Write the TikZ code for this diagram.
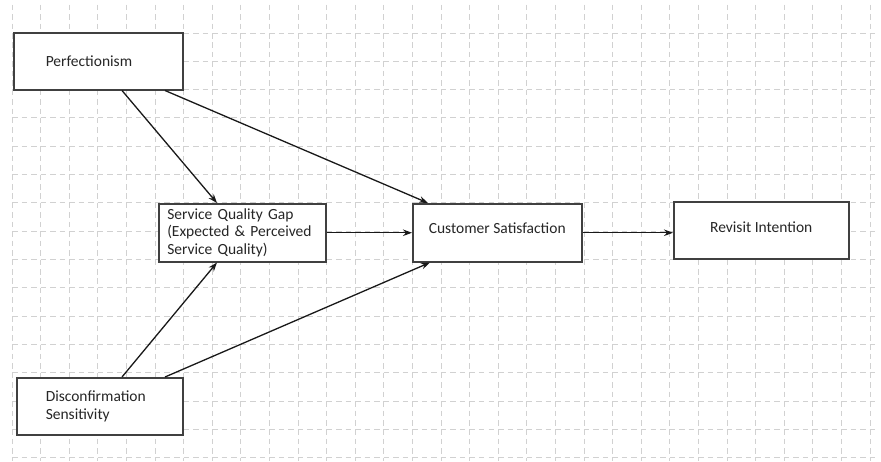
\documentclass[tikz,border=0pt]{standalone}
\usepackage{fontspec}
\setmainfont{Carlito}
\usetikzlibrary{arrows.meta}
\begin{document}
\begin{tikzpicture}[x=1pt,y=-1pt,
  box/.style={draw=black!75, line width=1.5pt, fill=white, inner ysep=0pt, minimum height=57pt, text=black!85, font=\fontsize{15.5}{17.5}\selectfont},
  conn/.style={line width=1.3pt, draw=black!90, -{Stealth[length=9pt,width=6.5pt]}},
  hgrid/.style={draw=black!18, line width=1pt, dash pattern=on 5.5pt off 4.03pt},
  vgrid/.style={draw=black!18, line width=1pt, dash pattern=on 5.5pt off 3.94pt}]
\useasboundingbox[fill=white] (0,0) rectangle (881,461);
\foreach \i in {0,...,30} \draw[vgrid] ({12+\i*28.6},4.68) -- ({12+\i*28.6},461);
\foreach \j in {0,...,15} \draw[hgrid] (12,{33+\j*28.33}) -- (876,{33+\j*28.33});
\node[box, anchor=north west, minimum width=169pt, text width=105pt, inner xsep=32pt, align=left] (perf) at (13,32) {Perfectionism};
\node[box, anchor=north west, minimum width=167pt, text width=150pt, inner xsep=8.5pt, align=left, minimum height=58pt] (sqg) at (158,203) {Service Quality Gap\\(Expected \& Perceived\\Service Quality)};
\node[box, anchor=north west, minimum width=169pt, minimum height=58pt] (cs) at (412,203) {\raisebox{-1pt}[0pt][0pt]{Customer Satisfaction}};
\node[box, anchor=north west, minimum width=175pt, minimum height=57pt] (ri) at (673,201) {\raisebox{-2.5pt}[0pt][0pt]{Revisit Intention}};
\node[box, anchor=north west, minimum width=166pt, text width=108pt, inner xsep=29pt, align=left] (ds) at (16,377) {Disconfirmation\\Sensitivity};
\draw[conn] ([xshift=109pt]perf.south west) -- ([xshift=59pt]sqg.north west);
\draw[conn] ([xshift=152pt]perf.south west) -- ([xshift=16pt]cs.north west);
\draw[conn] (sqg.east) -- (cs.west);
\draw[conn] (cs.east) -- (cs.east -| ri.west);
\draw[conn] ([xshift=106pt]ds.north west) -- ([xshift=59pt]sqg.south west);
\draw[conn] ([xshift=149pt]ds.north west) -- ([xshift=18pt]cs.south west);
\end{tikzpicture}
\end{document}
